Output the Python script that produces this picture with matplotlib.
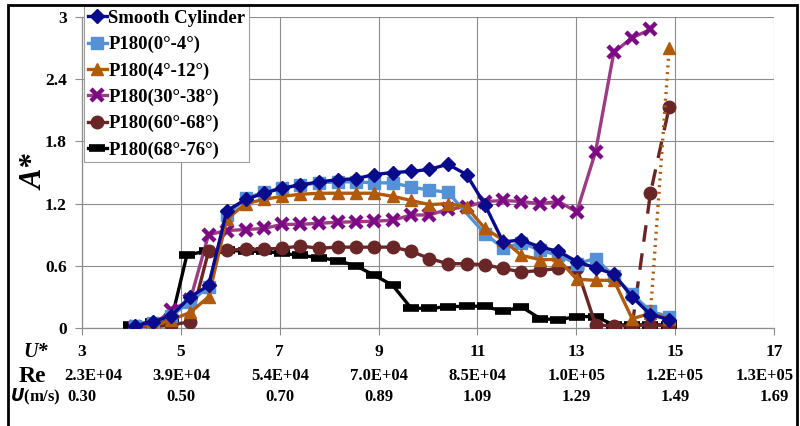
import matplotlib
matplotlib.use("Agg")
import matplotlib.pyplot as plt
import matplotlib.transforms as mtransforms
from matplotlib.patches import Rectangle

# ---------------- data ----------------
u_grid = [4.07, 4.44, 4.81, 5.19, 5.56, 5.93, 6.31, 6.68, 7.05, 7.42,
          7.80, 8.17, 8.54, 8.91, 9.29, 9.66, 10.03, 10.40, 10.78, 11.15,
          11.52, 11.89, 12.27, 12.64, 13.01, 13.39, 13.76, 14.13, 14.50, 14.88]

smooth_u = u_grid
smooth_a = [0.02, 0.06, 0.12, 0.30, 0.41, 1.13, 1.24, 1.30, 1.35, 1.38,
            1.41, 1.43, 1.44, 1.48, 1.50, 1.51, 1.53, 1.58, 1.48, 1.19,
            0.83, 0.85, 0.78, 0.74, 0.64, 0.58, 0.52, 0.30, 0.13, 0.08]

p0_4_u = u_grid[:18] + u_grid[19:]
p0_4_a = [0.02, 0.05, 0.12, 0.25, 0.40, 1.09, 1.25, 1.31, 1.35, 1.38,
          1.40, 1.41, 1.41, 1.40, 1.40, 1.36, 1.33, 1.31, 0.91,
          0.77, 0.82, 0.75, 0.70, 0.62, 0.67, 0.50, 0.33, 0.16, 0.11]

p4_12_u = u_grid
p4_12_a = [0.02, 0.02, 0.08, 0.15, 0.30, 1.05, 1.20, 1.24, 1.27, 1.29,
           1.30, 1.30, 1.30, 1.30, 1.27, 1.23, 1.19, 1.20, 1.17, 0.96,
           0.85, 0.70, 0.66, 0.66, 0.47, 0.46, 0.46, 0.09, 0.14, 0.09]
p4_12_jump_u = [14.50, 14.88]
p4_12_jump_a = [0.14, 2.70]

p30_38_u = u_grid[:29]
p30_38_a = [0.01, 0.03, 0.17, 0.27, 0.90, 0.94, 0.95, 0.96, 1.00, 1.00,
            1.01, 1.02, 1.025, 1.03, 1.04, 1.09, 1.09, 1.145, 1.17, 1.22,
            1.23, 1.22, 1.20, 1.22, 1.12, 1.70, 2.66, 2.80, 2.88]

p60_68_u = u_grid
p60_68_a = [0.01, 0.01, 0.03, 0.06, 0.74, 0.75, 0.76, 0.76, 0.77, 0.79,
            0.77, 0.78, 0.78, 0.78, 0.78, 0.74, 0.67, 0.62, 0.62, 0.61,
            0.575, 0.54, 0.555, 0.575, 0.58, 0.03, 0.02, 0.02, 0.03, 0.02]
p60_68_jump_u = [14.13, 14.50, 14.88]
p60_68_jump_a = [0.02, 1.30, 2.13]

p68_76_u = [4.00, 4.44, 4.81, 5.12, 5.52, 5.93, 6.31, 6.68, 7.05, 7.42,
            7.80, 8.17, 8.54, 8.91, 9.29, 9.66, 10.03, 10.40, 10.78, 11.15,
            11.52, 11.89, 12.27, 12.64, 13.01, 13.39, 13.76, 14.13, 14.50, 14.88]
p68_76_a = [0.03, 0.06, 0.08, 0.70, 0.745, 0.75, 0.74, 0.74, 0.72, 0.70,
            0.68, 0.65, 0.60, 0.51, 0.41, 0.19, 0.19, 0.205, 0.21, 0.21,
            0.16, 0.205, 0.09, 0.08, 0.11, 0.11, 0.03, 0.03, 0.03, 0.03]

ustar_ticks = [3, 5, 7, 9, 11, 13, 15, 17]
re_labels = ["2.3E+04", "3.9E+04", "5.4E+04", "7.0E+04", "8.5E+04",
             "1.0E+05", "1.2E+05", "1.3E+05"]
u_ms_labels = ["0.30", "0.50", "0.70", "0.89", "1.09", "1.29", "1.49", "1.69"]
y_ticks = [0, 0.6, 1.2, 1.8, 2.4, 3]
y_labels = ["0", "0.6", "1.2", "1.8", "2.4", "3"]

# ---------------- figure ----------------
plt.rcParams['font.family'] = ['Liberation Serif', 'DejaVu Serif']
fig = plt.figure(figsize=(8.0, 4.26), dpi=100)
ax = fig.add_axes([82/800, 1 - 328/426, (774 - 82)/800, (328 - 17)/426])

ax.set_xlim(3, 17)
ax.set_ylim(0, 3)

grid_c = '#8c8c8c'
ax.set_xticks(ustar_ticks)
ax.set_xticklabels([])
ax.set_yticks(y_ticks)
ax.set_yticklabels(y_labels, fontsize=12.5, fontweight='bold')
ax.tick_params(axis='both', direction='out', length=5, color=grid_c, width=0.8)
ax.tick_params(axis='y', pad=6)
ax.grid(True, color=grid_c, linewidth=0.8)
ax.set_axisbelow(True)
for s in ['top', 'right']:
    ax.spines[s].set_visible(False)
for s in ['left', 'bottom']:
    ax.spines[s].set_color(grid_c)
    ax.spines[s].set_linewidth(0.9)

lw = 2.4
c_navy = '#0a0a8c'
c_lblue = '#5591d6'
c_orange = '#b05a0c'
c_purple_line = '#9c3c84'
c_purple = '#7d0a85'
c_maroon = '#6a2626'
c_black = '#000000'

ax.plot(smooth_u, smooth_a, color=c_navy, lw=lw, marker='D', ms=7,
        label='Smooth Cylinder', zorder=6)
ax.plot(p0_4_u, p0_4_a, color=c_lblue, lw=lw, marker='s', ms=8.5,
        label='P180(0°-4°)', zorder=5)
ax.plot(p4_12_u, p4_12_a, color=c_orange, lw=lw, marker='^', ms=9,
        label='P180(4°-12°)', zorder=5)
ax.plot(p4_12_jump_u, p4_12_jump_a, color=c_orange, lw=lw, ls=(0, (0.6, 1.4)),
        marker='^', ms=9, markevery=[1], zorder=5)
ax.plot(p30_38_u, p30_38_a, color=c_purple_line, lw=lw, marker='x', ms=8.5,
        mew=3.2, mec=c_purple, label='P180(30°-38°)', zorder=4)
ax.plot(p60_68_u, p60_68_a, color=c_maroon, lw=lw, marker='o', ms=9,
        label='P180(60°-68°)', zorder=4)
ax.plot(p60_68_jump_u, p60_68_jump_a, color=c_maroon, lw=lw, ls=(0, (5, 3.5)),
        marker='o', ms=9, markevery=[1, 2], zorder=4)
ax.plot(p68_76_u, p68_76_a, color=c_black, lw=lw, marker='_', ms=12,
        mew=5.5, label='P180(68°-76°)', zorder=3)

leg = ax.legend(loc='upper left', bbox_to_anchor=(0.003, 1.035), frameon=True,
                fancybox=False, edgecolor='#a0a0a0', framealpha=1,
                prop={'family': 'Liberation Serif', 'weight': 'bold', 'size': 13.5},
                handlelength=1.0, handletextpad=0.1, borderpad=0.2,
                labelspacing=0.48, borderaxespad=0.0)
leg.get_frame().set_linewidth(0.8)
leg.set_zorder(10)

# y label
fig.text(35/800, 1 - 172/426, 'A*', rotation=90, fontsize=22, style='italic',
         fontweight='bold', ha='center', va='center')

# bottom rows
trans = mtransforms.blended_transform_factory(ax.transData, fig.transFigure)
y1, y2, y3 = 1 - 352/426, 1 - 376/426, 1 - 397/426
for i, u in enumerate(ustar_ticks):
    ax.text(u, y1, str(u), transform=trans, ha='center', va='center',
            fontsize=12.5, fontweight='bold', clip_on=False)
    xr = u + (0.22 if i == 0 else (-0.18 if i == len(ustar_ticks) - 1 else 0))
    ax.text(xr, y2, re_labels[i], transform=trans, ha='center', va='center',
            fontsize=12, fontweight='bold', clip_on=False)
    ax.text(u, y3, u_ms_labels[i], transform=trans, ha='center', va='center',
            fontsize=12, fontweight='bold', clip_on=False)

fig.text(23/800, y1, 'U*', fontsize=14.5, style='italic', fontweight='bold',
         ha='left', va='center')
fig.text(19/800, y2, 'Re', fontsize=17, fontweight='bold', ha='left', va='center')
fig.text(10/800, y3, r'$\mathbfit{U}$(m/s)', fontsize=12, fontweight='bold',
         ha='left', va='center')

# outer frame
fig.patches.append(Rectangle((8/800, -0.05), (797 - 8)/800, 1.05 - 5/426,
                             transform=fig.transFigure, fill=False,
                             edgecolor='black', linewidth=2.0))

fig.savefig('out.png', dpi=100)
